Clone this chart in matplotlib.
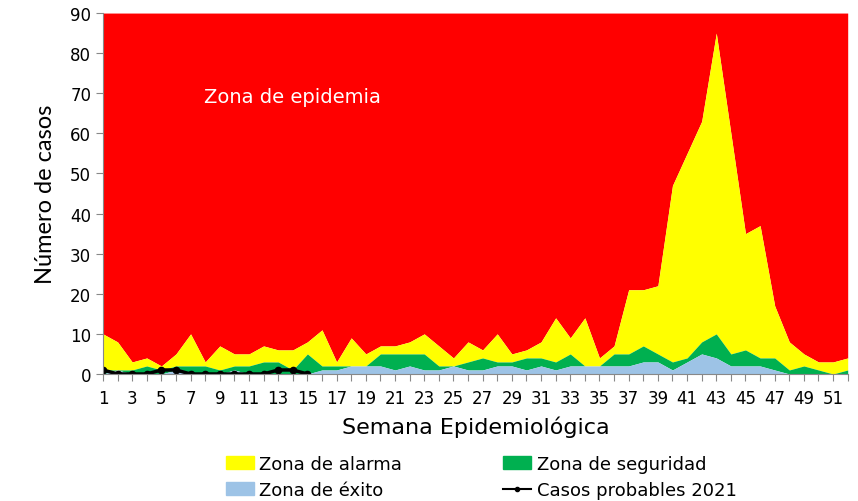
import numpy as np
import matplotlib.pyplot as plt
from matplotlib.patches import Patch
from matplotlib.lines import Line2D

semanas = np.arange(1, 53)

# upper limit of each zone (cumulative)
zona_exito = [0, 1, 0, 0, 0, 1, 0, 0, 0, 1, 0, 0, 0, 0, 0, 1, 1, 2, 2, 2,
              1, 2, 1, 1, 2, 1, 1, 2, 2, 1, 2, 1, 2, 2, 2, 2, 2, 3, 3, 1,
              3, 5, 4, 2, 2, 2, 1, 0, 0, 0, 0, 0]
zona_seguridad = [1, 1, 1, 2, 1, 2, 2, 2, 1, 2, 2, 3, 3, 1, 5, 2, 2, 2, 2, 5,
                  5, 5, 5, 2, 2, 3, 4, 3, 3, 4, 4, 3, 5, 2, 2, 5, 5, 7, 5, 3,
                  4, 8, 10, 5, 6, 4, 4, 1, 2, 1, 0, 1]
zona_alarma = [10, 8, 3, 4, 2, 5, 10, 3, 7, 5, 5, 7, 6, 6, 8, 11, 3, 9, 5, 7,
               7, 8, 10, 7, 4, 8, 6, 10, 5, 6, 8, 14, 9, 14, 4, 7, 21, 21, 22, 47,
               55, 63, 85, 60, 35, 37, 17, 8, 5, 3, 3, 4]
tope_epidemia = 90

semanas_2021 = np.arange(1, 16)
casos_2021 = [1, 0, 0, 0, 1, 1, 0, 0, 0, 0, 0, 0, 1, 1, 0]

c_rojo = "#FF0000"
c_amarillo = "#FFFF00"
c_verde = "#00B050"
c_azul = "#9DC3E6"

fig = plt.figure(figsize=(8.58, 5.02), dpi=100)
ax = fig.add_axes([0.120, 0.253, 0.868, 0.719])

ax.fill_between(semanas, zona_alarma, tope_epidemia, color=c_rojo, lw=0)
ax.fill_between(semanas, zona_seguridad, zona_alarma, color=c_amarillo, lw=0)
ax.fill_between(semanas, zona_exito, zona_seguridad, color=c_verde, lw=0)
ax.fill_between(semanas, 0, zona_exito, color=c_azul, lw=0)
ax.plot(semanas_2021, casos_2021, color="black", lw=2.5, marker="o", ms=4.5)

ax.text(14, 69.3, "Zona de epidemia", color="white", fontsize=14, ha="center", va="center")

ax.set_xlim(1, 52)
ax.set_ylim(0, 90)
ax.set_xticks(semanas)
ax.set_xticklabels([str(s) if s % 2 == 1 else "" for s in semanas], fontsize=12)
ax.set_yticks(np.arange(0, 91, 10))
ax.tick_params(axis="y", labelsize=12, length=5, color="#888888")
ax.tick_params(axis="x", length=5, color="#888888", pad=6)
for s in ["top", "right"]:
    ax.spines[s].set_visible(False)
for s in ["left", "bottom"]:
    ax.spines[s].set_color("#888888")

ax.set_ylabel("Número de casos", fontsize=17, labelpad=10, family=["Lato", "DejaVu Sans"])
ax.set_xlabel("Semana Epidemiológica", fontsize=16, labelpad=6)

handles = [
    Patch(color=c_amarillo, label="Zona de alarma"),
    Patch(color=c_azul, label="Zona de éxito"),
    Patch(color=c_verde, label="Zona de seguridad"),
    Line2D([0], [0], color="black", marker="o", ms=3, lw=1.5, label="Casos probables 2021"),
]
fig.legend(handles=handles, loc="center", bbox_to_anchor=(0.561, 0.048), ncol=2,
           frameon=False, fontsize=13, columnspacing=5.6, handlelength=1.55,
           handleheight=0.7, labelspacing=0.44, handletextpad=0.3)

plt.savefig("out.png")
